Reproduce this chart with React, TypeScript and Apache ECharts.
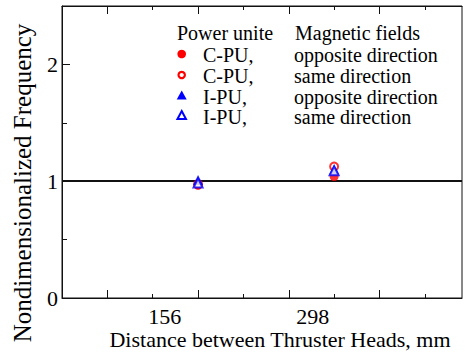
import React, { useEffect, useRef } from "react";
import * as echarts from "echarts";

// ---- data ----
const categories = ["156", "298"]; // distance between thruster heads, mm
const xPos = [3, 6]; // location of each category on the (arbitrary) x scale
const cpuOpposite = [0.965, 1.04];
const cpuSame = [0.975, 1.125];
const ipuOpposite = [1.01, 1.1];
const ipuSame = [0.985, 1.09];
const powerUnits = ["C-PU,", "C-PU,", "I-PU,", "I-PU,"];
const fieldDirs = ["opposite direction", "same direction", "opposite direction", "same direction"];
const yTickLabels = [0, 1, 2];
const yMinorTicks = [0.5, 1.5];
const referenceValue = 1;
const xTitle = "Distance between Thruster Heads, mm";
const yTitle = "Nondimensionalized Frequency";

const FONT = "Liberation Serif";
const RED = "#ff0000";
const BLUE = "#0000ff";

const seriesValues = [cpuOpposite, cpuSame, ipuOpposite, ipuSame];
const symbols = ["circle", "emptyCircle", "triangle", "emptyTriangle"];
const symbolSizes = [9, 8, 10, 9];
const colors = [RED, RED, BLUE, BLUE];

const X_MAX = 8.82;
const GRID = { left: 62, top: 6, width: 400, height: 292 };

export default function App() {
  const ref = useRef<HTMLDivElement>(null);
  useEffect(() => {
    if (!ref.current) return;
    const chart = echarts.init(ref.current, undefined, { renderer: "svg" });

    const legendRowsMid = [55.3, 76.3, 96.8, 116.8];
    const legendMarkerY = [54, 75, 95.3, 115.3];
    const mx = 181.7;
    const txt = (text: string, x: number, y: number) => ({
      type: "text",
      x,
      y,
      style: { text, fontSize: 20, fontFamily: FONT, fill: "#000", verticalAlign: "middle" },
    });
    const graphics: any[] = [
      txt("Power unite", 177, 33.3),
      txt("Magnetic fields", 295, 33.3),
      {
        type: "text",
        x: 280,
        y: 339,
        style: {
          text: xTitle,
          fontSize: 22,
          fontFamily: FONT,
          fill: "#000",
          align: "center",
          verticalAlign: "middle",
        },
      },
    ];
    powerUnits.forEach((pu, i) => {
      const cy = legendMarkerY[i];
      const filled = !symbols[i].startsWith("empty");
      if (symbols[i].includes("ircle")) {
        graphics.push({
          type: "circle",
          shape: { cx: mx, cy, r: filled ? 4.3 : 3.2 },
          style: { fill: filled ? colors[i] : "#fff", stroke: colors[i], lineWidth: filled ? 0 : 2.2 },
        });
      } else {
        const w = filled ? 10 : 8.5;
        const h = filled ? 8.5 : 7.5;
        graphics.push({
          type: "polygon",
          shape: {
            points: [
              [mx, cy - h / 2 - 0.5],
              [mx + w / 2, cy + h / 2],
              [mx - w / 2, cy + h / 2],
            ],
          },
          style: { fill: filled ? colors[i] : "#fff", stroke: colors[i], lineWidth: filled ? 0 : 2 },
        });
      }
      graphics.push(txt(pu, 203, legendRowsMid[i]));
      graphics.push(txt(fieldDirs[i], 294, legendRowsMid[i]));
    });

    const axisLineStyle = { color: "#111", width: 1 };
    const labelPositions = [2.265, 5.53];
    const gridCommon = { ...GRID, containLabel: false, outerBoundsMode: "none" };

    chart.setOption({
      animation: false,
      textStyle: { fontFamily: FONT },
      grid: [
        { ...gridCommon, show: true, borderColor: "#111", borderWidth: 1 },
        { ...gridCommon, show: false },
      ],
      xAxis: [
        {
          type: "value",
          gridIndex: 0,
          position: "bottom",
          min: 0,
          max: X_MAX,
          axisLine: { show: true, lineStyle: axisLineStyle },
          axisTick: { show: true, inside: true, length: 8, customValues: [1, 3, 5, 7], lineStyle: axisLineStyle },
          axisLabel: {
            show: true,
            customValues: labelPositions,
            formatter: (v: number) => {
              const idx = labelPositions.findIndex((p) => Math.abs(p - v) < 1e-6);
              return idx >= 0 ? categories[idx] : "";
            },
            color: "#000",
            fontSize: 22,
            fontFamily: FONT,
            margin: 7,
          },
          splitLine: { show: false },
        },
        {
          type: "value",
          gridIndex: 0,
          position: "top",
          min: 0,
          max: X_MAX,
          axisLine: { show: true, lineStyle: axisLineStyle },
          axisTick: { show: true, inside: true, length: 8, customValues: [1, 3, 5, 7], lineStyle: axisLineStyle },
          axisLabel: { show: false },
          splitLine: { show: false },
        },
        {
          type: "value",
          gridIndex: 1,
          position: "bottom",
          min: 0,
          max: X_MAX,
          axisLine: { show: false },
          axisTick: { show: true, inside: true, length: 4, customValues: [2, 4, 6, 8], lineStyle: axisLineStyle },
          axisLabel: { show: false },
          splitLine: { show: false },
        },
        {
          type: "value",
          gridIndex: 1,
          position: "top",
          min: 0,
          max: X_MAX,
          axisLine: { show: false },
          axisTick: { show: true, inside: true, length: 4, customValues: [2, 4, 6, 8], lineStyle: axisLineStyle },
          axisLabel: { show: false },
          splitLine: { show: false },
        },
      ],
      yAxis: [
        {
          type: "value",
          gridIndex: 0,
          position: "left",
          min: 0,
          max: 2.5,
          axisLine: { show: true, lineStyle: axisLineStyle },
          axisTick: { show: true, inside: true, length: 8, customValues: yTickLabels, lineStyle: axisLineStyle },
          axisLabel: {
            show: true,
            customValues: yTickLabels,
            color: "#000",
            fontSize: 22,
            fontFamily: FONT,
            margin: 4,
          },
          splitLine: { show: false },
          name: yTitle,
          nameLocation: "middle",
          nameGap: 27,
          nameTextStyle: { color: "#000", fontSize: 25, fontFamily: FONT, padding: [0, 62, 0, 0] },
        },
        {
          type: "value",
          gridIndex: 1,
          position: "left",
          min: 0,
          max: 2.5,
          axisLine: { show: false },
          axisTick: { show: true, inside: true, length: 5, customValues: yMinorTicks, lineStyle: axisLineStyle },
          axisLabel: { show: false },
          splitLine: { show: false },
        },
      ],
      series: seriesValues.map((vals, i) => ({
        type: "scatter",
        name: `${powerUnits[i]} ${fieldDirs[i]}`,
        xAxisIndex: 0,
        yAxisIndex: 0,
        z: 3,
        symbol: symbols[i],
        symbolSize: symbolSizes[i],
        itemStyle: { color: colors[i] },
        data: vals.map((v, j) => [xPos[j], v]),
        ...(i === 0
          ? {
              markLine: {
                silent: true,
                z: 1,
                symbol: ["none", "none"],
                label: { show: false },
                lineStyle: { color: "#111", width: 2, type: "solid" },
                data: [{ yAxis: referenceValue }],
              },
            }
          : {}),
      })),
      graphic: graphics,
    });
    return () => chart.dispose();
  }, []);
  return (
    <div
      ref={ref}
      style={{ position: "fixed", left: 0, top: 0, width: 465, height: 353, background: "#fff" }}
    />
  );
}
